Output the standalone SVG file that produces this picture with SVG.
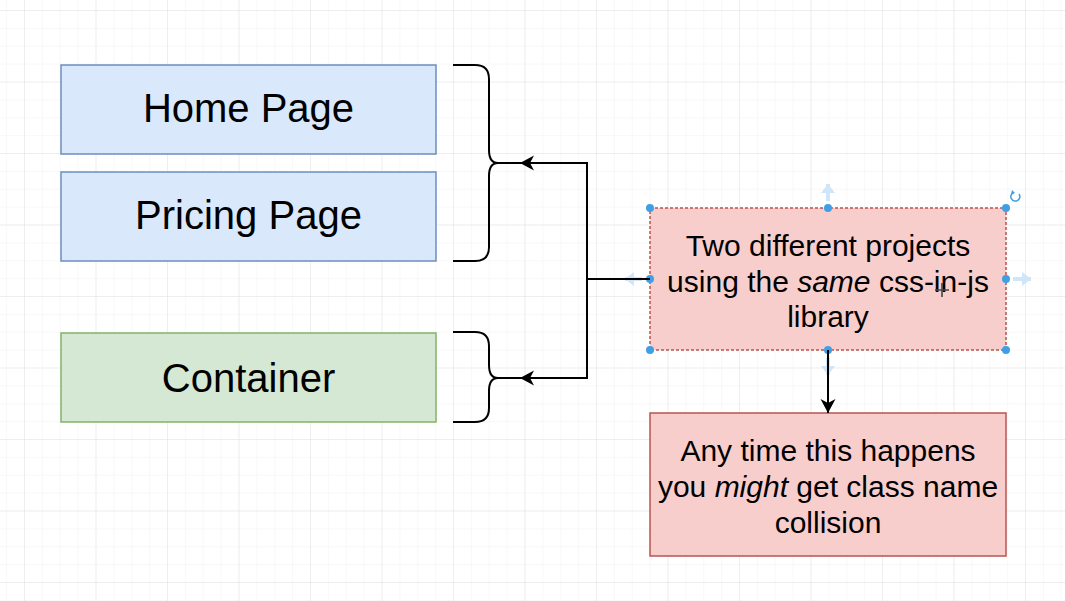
<svg xmlns="http://www.w3.org/2000/svg" width="1065" height="601" viewBox="0 0 1065 601">
  <defs>
    <pattern id="minor" x="24" y="10" width="17.875" height="17.875" patternUnits="userSpaceOnUse">
      <path d="M0,0 L17.875,0 M0,0 L0,17.875" stroke="#f1f1f1" stroke-width="1" fill="none"/>
    </pattern>
    <pattern id="major" x="24" y="10" width="71.5" height="71.5" patternUnits="userSpaceOnUse">
      <path d="M0,0 L71.5,0 M0,0 L0,71.5" stroke="#e4e4e4" stroke-width="1" fill="none"/>
    </pattern>
    <marker id="arrow" viewBox="-15 -8 16 16" refX="0" refY="0" markerWidth="16" markerHeight="16" markerUnits="userSpaceOnUse" orient="auto">
      <path d="M0,0 L-14,-7.5 L-10,0 L-14,7.5 Z" fill="#000"/>
    </marker>
    <marker id="hover" viewBox="-12 -8 13 16" refX="0" refY="0" markerWidth="13" markerHeight="16" markerUnits="userSpaceOnUse" orient="auto">
      <path d="M0,0 L-9,-7 L-9,7 Z" fill="#cfe6f8"/>
    </marker>
  </defs>
  <style>
    .blue { fill: #dae8fc; stroke: #6c8ebf; stroke-width: 1.5; }
    .green { fill: #d5e8d4; stroke: #82b366; stroke-width: 1.5; }
    .red { fill: #f8cecc; stroke: #b85450; stroke-width: 1.5; }
    .sel { stroke-dasharray: 3 2; }
    .big { font-family: "Liberation Sans", Arial, Helvetica, sans-serif; font-size: 40px; fill: #000; text-anchor: middle; }
    .txt { font-family: "Liberation Sans", Arial, Helvetica, sans-serif; font-size: 30px; fill: #000; text-anchor: middle; }
    .wire { fill: none; stroke: #000; stroke-width: 2; }
    .handle { fill: #3f9fe6; }
    .hv { stroke: #cfe6f8; stroke-width: 4; fill: none; }
  </style>
  <rect width="1065" height="601" fill="#fff"/>
  <rect width="1065" height="601" fill="url(#minor)"/>
  <rect width="1065" height="601" fill="url(#major)"/>

  <g id="home-page">
    <rect class="blue" x="61" y="65" width="375" height="89"/>
    <text class="big" x="248.5" y="122">Home Page</text>
  </g>
  <g id="pricing-page">
    <rect class="blue" x="61" y="172" width="375" height="89"/>
    <text class="big" x="248.5" y="229">Pricing Page</text>
  </g>
  <g id="container">
    <rect class="green" x="61" y="333" width="375" height="89"/>
    <text class="big" x="248.5" y="392">Container</text>
  </g>

  <g id="brace-pages">
    <path class="wire" d="M453,65 L475,65 Q489,65 489,79 L489,150 Q489,163 498,163 L520,163 M498,163 Q489,163 489,176 L489,247 Q489,261 475,261 L453,261"/>
  </g>
  <g id="brace-container">
    <path class="wire" d="M453,332 L475,332 Q489,332 489,346 L489,365 Q489,378 498,378 L520,378 M498,378 Q489,378 489,391 L489,408 Q489,422 475,422 L453,422"/>
  </g>

  <g id="projects">
    <rect class="red sel" x="650" y="208" width="356" height="142"/>
    <text class="txt" x="828" y="256">Two different projects</text>
    <text class="txt" x="828" y="292">using the <tspan font-style="italic">same</tspan> css-in-js</text>
    <text class="txt" x="828" y="327">library</text>
  </g>
  <g id="collision">
    <rect class="red" x="650" y="413" width="356" height="143"/>
    <text class="txt" x="828" y="461">Any time this happens</text>
    <text class="txt" x="828" y="497">you <tspan font-style="italic">might</tspan> get class name</text>
    <text class="txt" x="828" y="533">collision</text>
  </g>

  <g id="selection-ui">
    <path class="hv" d="M828,201 L828,184" marker-end="url(#hover)"/>
    <path class="hv" d="M1013,279 L1031,279" marker-end="url(#hover)"/>
    <path class="hv" d="M642,279 L625,279" marker-end="url(#hover)"/>
    <path class="hv" d="M828,358 L828,375" marker-end="url(#hover)"/>
    <path d="M1019,194 A4.5,4.5 0 1 1 1013.5,192.5" fill="none" stroke="#3f9fe6" stroke-width="1.5"/>
    <path d="M1012,190 L1015,193 L1011,194.5 Z" fill="#3f9fe6"/>
    <circle class="handle" cx="650" cy="208" r="4"/>
    <circle class="handle" cx="828" cy="208" r="4"/>
    <circle class="handle" cx="1006" cy="208" r="4"/>
    <circle class="handle" cx="650" cy="279" r="4"/>
    <circle class="handle" cx="1006" cy="279" r="4"/>
    <circle class="handle" cx="650" cy="350" r="4"/>
    <circle class="handle" cx="828" cy="350" r="4"/>
    <circle class="handle" cx="1006" cy="350" r="4"/>
    <path d="M942,283 L942,297 M935,290 L949,290" stroke="#444" stroke-width="1.6"/>
  </g>

  <g id="connectors">
    <path class="wire" d="M650,279 L587,279 L587,163 L520,163" marker-end="url(#arrow)"/>
    <path class="wire" d="M587,279 L587,378 L520,378" marker-end="url(#arrow)"/>
    <path class="wire" d="M828,350 L828,413" marker-end="url(#arrow)"/>
  </g>
</svg>
